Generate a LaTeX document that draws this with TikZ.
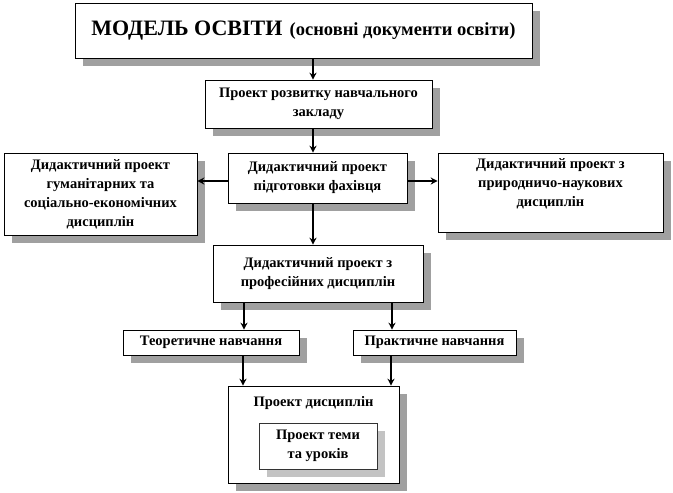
\documentclass[tikz,border=0pt]{standalone}
\usepackage{fontspec}
\setmainfont{Liberation Serif}
\usetikzlibrary{shadows,arrows.meta,calc}
\definecolor{shade}{RGB}{160,160,160}
\definecolor{lightshade}{RGB}{195,195,195}
\begin{document}
\begin{tikzpicture}[x=1pt,y=-1pt,
  box/.style={draw=black, line width=0.6pt, fill=white, inner sep=0pt, align=center,
    font=\bfseries\fontsize{14.5}{19}\selectfont,
    drop shadow={shadow xshift=8pt, shadow yshift=-8pt, fill=shade, opacity=1}},
  innerbox/.style={draw=black!80, line width=0.8pt, fill=white, inner sep=0pt, align=center,
    font=\bfseries\fontsize{14.5}{19}\selectfont,
    drop shadow={shadow xshift=8pt, shadow yshift=-8pt, fill=lightshade, opacity=1}},
  txt/.style={inner sep=0pt, align=center, font=\bfseries\fontsize{14.5}{19}\selectfont},
  arr/.style={line width=2.5pt, -{Stealth[length=7pt,width=7pt]}}]
\useasboundingbox (0,0) rectangle (673,493);

% boxes
\node[box, minimum width=457pt, minimum height=55pt] (top) at (303.5,30.5)
  {{\fontsize{22}{26}\selectfont МОДЕЛЬ ОСВІТИ}\ \ {\fontsize{18.5}{22}\selectfont (основні документи освіти)}};
\node[box, minimum width=227pt, minimum height=48pt] (proj) at (318.5,104)
  {Проект розвитку навчального\\закладу};
\node[box, minimum width=193pt, minimum height=82pt] (left) at (100.5,194)
  {Дидактичний проект\\гуманітарних та\\соціально-економічних\\дисциплін};
\node[box, minimum width=179pt, minimum height=50pt] (center) at (317.5,178)
  {Дидактичний проект\\підготовки фахівця};
\node[box, minimum width=225pt, minimum height=79pt] (right) at (550.5,192.5) {};
\node[txt] (righttext) at (550.5,184)
  {Дидактичний проект з\\природничо-наукових\\дисциплін};
\node[box, minimum width=210pt, minimum height=57pt] (prof) at (318,273.5)
  {Дидактичний проект з\\професійних дисциплін};
\node[box, minimum width=176pt, minimum height=25pt] (theor) at (211,342.5)
  {Теоретичне навчання};
\node[box, minimum width=163pt, minimum height=25pt] (pract) at (434.5,342.5)
  {Практичне навчання};
\node[box, minimum width=171pt, minimum height=97pt] (disc) at (313.5,434.5) {};
\node[txt] (disctext) at (313.5,403) {Проект дисциплін};
\node[innerbox, minimum width=118pt, minimum height=46pt] (theme) at (318,446)
  {Проект теми\\та уроків};

% arrow anchor coordinates
\coordinate (a1) at ([xshift=-5.5pt]proj.north);
\coordinate (a2) at ([xshift=-4.5pt]center.north);
\coordinate (a3) at ([xshift=-5pt]prof.north);
\coordinate (lw) at ([yshift=-3pt]center.west);
\coordinate (le) at ([yshift=-3pt]center.east);
\coordinate (t1) at ([xshift=33pt]theor.north);
\coordinate (p1) at ([xshift=-42.5pt]pract.north);
\coordinate (d1) at ([xshift=-70.5pt]disc.north);
\coordinate (d2) at ([xshift=77.5pt]disc.north);

% connectors
\draw[arr] (top.south -| a1) -- (a1);
\draw[arr] (proj.south -| a2) -- (a2);
\draw[arr] (lw) -- (lw -| left.east);
\draw[arr] (le) -- (le -| right.west);
\draw[arr] (center.south -| a3) -- (a3);
\draw[arr] (prof.south -| t1) -- (t1);
\draw[arr] (prof.south -| p1) -- (p1);
\draw[arr] (theor.south -| d1) -- (d1);
\draw[arr] (pract.south -| d2) -- (d2);
\end{tikzpicture}
\end{document}
